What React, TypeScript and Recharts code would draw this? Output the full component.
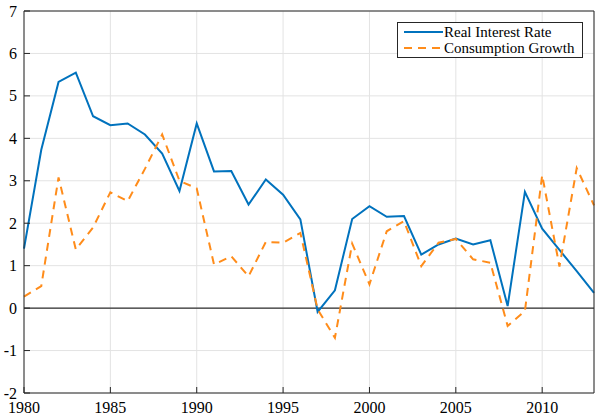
import { LineChart, Line, XAxis, YAxis, CartesianGrid, ReferenceLine } from "recharts";

const years = [
  1980, 1981, 1982, 1983, 1984, 1985, 1986, 1987, 1988, 1989,
  1990, 1991, 1992, 1993, 1994, 1995, 1996, 1997, 1998, 1999,
  2000, 2001, 2002, 2003, 2004, 2005, 2006, 2007, 2008, 2009,
  2010, 2011, 2012, 2013,
];

const realInterestRate = [
  1.4, 3.73, 5.33, 5.55, 4.52, 4.31, 4.35, 4.09, 3.64, 2.76,
  4.35, 3.22, 3.23, 2.44, 3.03, 2.67, 2.09, -0.09, 0.42, 2.1,
  2.4, 2.15, 2.17, 1.26, 1.5, 1.64, 1.5, 1.6, 0.05, 2.74,
  1.87, 1.37, 0.87, 0.36,
];

const consumptionGrowth = [
  0.27, 0.52, 3.08, 1.38, 1.9, 2.73, 2.52, 3.28, 4.09, 3.0,
  2.82, 1.03, 1.22, 0.75, 1.56, 1.54, 1.77, -0.03, -0.7, 1.52,
  0.56, 1.81, 2.05, 0.99, 1.54, 1.63, 1.15, 1.07, -0.42, -0.07,
  3.13, 0.98, 3.3, 2.42,
];

const xTicks = [1980, 1985, 1990, 1995, 2000, 2005, 2010];
const yTicks = [-2, -1, 0, 1, 2, 3, 4, 5, 6, 7];
const seriesNames = ["Real Interest Rate", "Consumption Growth"];

const BLUE = "#0072BD";
const ORANGE = "#FF8C1A";
const FONT = '"Liberation Serif", "Times New Roman", Times, serif';
const TICK = 6;
const GAP = 2;

const data = years.map((year, i) => ({
  year,
  rate: realInterestRate[i],
  growth: consumptionGrowth[i],
}));

// inward tick + label for the bottom axis
function BottomTick(props: any) {
  const { x, y, payload } = props;
  const axisY = y - TICK - GAP;
  return (
    <g>
      <line x1={x} x2={x} y1={axisY} y2={axisY - TICK} stroke="#262626" />
      <text x={x} y={y} dy="0.72em" textAnchor="middle" fill="#000" style={{ fontFamily: FONT, fontSize: 16 }}>
        {payload.value}
      </text>
    </g>
  );
}

// inward tick + label for the left axis
function LeftTick(props: any) {
  const { x, y, payload } = props;
  const axisX = x + TICK + GAP;
  return (
    <g>
      <line x1={axisX} x2={axisX + TICK} y1={y} y2={y} stroke="#262626" />
      <text x={x + 1} y={y} dy="0.35em" textAnchor="end" fill="#000" style={{ fontFamily: FONT, fontSize: 16 }}>
        {payload.value}
      </text>
    </g>
  );
}

function LegendBox() {
  const colors = [BLUE, ORANGE];
  const dashes = [undefined, "8 6"];
  return (
    <div
      style={{
        position: "absolute",
        left: 397,
        top: 22,
        width: 186,
        height: 36,
        boxSizing: "border-box",
        border: "1px solid #262626",
        background: "#fff",
        fontFamily: FONT,
        fontSize: 15,
        paddingTop: 1,
      }}
    >
      {seriesNames.map((name, i) => (
        <div key={name} style={{ display: "flex", alignItems: "center", height: 16 }}>
          <svg width={46} height={16} style={{ display: "block" }}>
            <line x1={6} x2={45} y1={8} y2={8} stroke={colors[i]} strokeWidth={2} strokeDasharray={dashes[i]} />
          </svg>
          <span style={{ lineHeight: "16px", whiteSpace: "nowrap" }}>{name}</span>
        </div>
      ))}
    </div>
  );
}

export default function App() {
  return (
    <div style={{ position: "absolute", left: 0, top: 0, width: 600, height: 420, background: "#fff", fontFamily: FONT }}>
      <LineChart width={600} height={420} data={data} margin={{ top: 11, right: 6, bottom: 0, left: 0 }}>
        <CartesianGrid stroke="#e3e3e3" strokeWidth={1} />
        <XAxis
          dataKey="year"
          type="number"
          domain={[1980, 2013]}
          ticks={xTicks}
          interval={0}
          height={27}
          tickSize={TICK}
          tickLine={false}
          axisLine={{ stroke: "#262626" }}
          tick={<BottomTick />}
        />
        <XAxis
          xAxisId="top"
          dataKey="year"
          orientation="top"
          type="number"
          domain={[1980, 2013]}
          ticks={xTicks}
          interval={0}
          mirror
          height={1}
          tickSize={TICK}
          tick={false}
          tickLine={{ stroke: "#262626" }}
          axisLine={{ stroke: "#262626" }}
        />
        <YAxis
          type="number"
          domain={[-2, 7]}
          ticks={yTicks}
          interval={0}
          width={24}
          tickSize={TICK}
          tickLine={false}
          axisLine={{ stroke: "#262626" }}
          tick={<LeftTick />}
        />
        <YAxis
          yAxisId="right"
          orientation="right"
          type="number"
          domain={[-2, 7]}
          ticks={yTicks}
          interval={0}
          mirror
          width={1}
          tickSize={TICK}
          tick={false}
          tickLine={{ stroke: "#262626" }}
          axisLine={{ stroke: "#262626" }}
        />
        <ReferenceLine y={0} stroke="#000" strokeWidth={1} />
        <Line
          type="linear"
          dataKey="rate"
          name={seriesNames[0]}
          stroke={BLUE}
          strokeWidth={2}
          dot={false}
          isAnimationActive={false}
        />
        <Line
          type="linear"
          dataKey="growth"
          name={seriesNames[1]}
          stroke={ORANGE}
          strokeWidth={2}
          strokeDasharray="8 6"
          dot={false}
          isAnimationActive={false}
        />
      </LineChart>
      <LegendBox />
    </div>
  );
}
